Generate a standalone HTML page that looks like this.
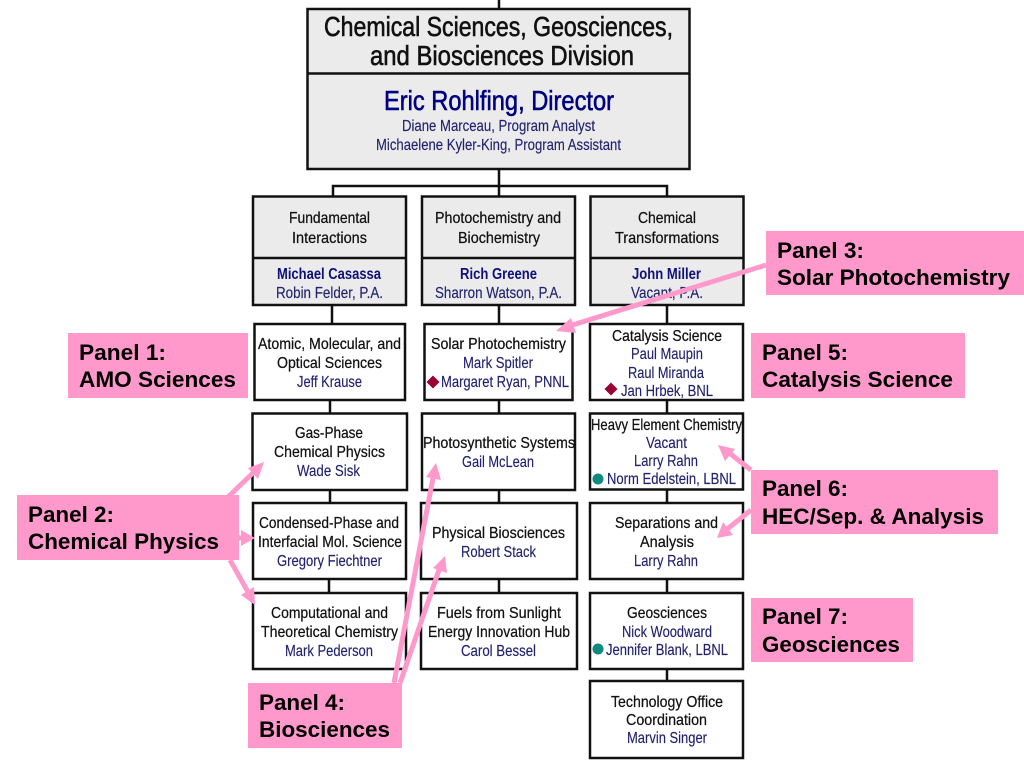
<!DOCTYPE html>
<html><head><meta charset="utf-8"><style>
html,body{margin:0;padding:0;background:#fff}
svg{display:block}
text{font-family:"Liberation Sans",sans-serif}
.k{font-size:16px;fill:#111;stroke:#111;stroke-width:.25px}
.n{font-size:16px;fill:#22226e;stroke:#22226e;stroke-width:.15px}
.b{font-size:16px;fill:#10107a;font-weight:bold}
.p{font-size:22.5px;fill:#000;font-weight:bold}
.t{font-size:28px;fill:#111;stroke:#111;stroke-width:.6px}
</style></head><body>
<svg width="1024" height="768" viewBox="0 0 1024 768" xmlns="http://www.w3.org/2000/svg">
<rect width="1024" height="768" fill="#fff"/>
<g fill="none" stroke="#111" stroke-width="2.5">
<path d="M499 0V9M499 169V196M333 196V186H667V196M332 305V324M499 305V324M667 305V324M330 400V413M499 400V413M667 400V413M330 490V503M499 490V503M667 490V503M329 579V593M499 579V593M667 579V593M667 669V681"/>
<rect x="307.500" y="9" width="382" height="160" fill="#ebebeb"/><path d="M307 73.500H690"/>
<rect x="253" y="196.500" width="153" height="108.500" fill="#ebebeb"/><path d="M253 258H406"/>
<rect x="422" y="196.500" width="153" height="108.500" fill="#ebebeb"/><path d="M422 258H575"/>
<rect x="590.500" y="196.500" width="153" height="108.500" fill="#ebebeb"/><path d="M590 258H743"/>
<g fill="#fff">
<rect x="254.500" y="324" width="150.500" height="76"/><rect x="424.500" y="324" width="148" height="76"/><rect x="590" y="324" width="153" height="76"/>
<rect x="252.500" y="413.500" width="154.500" height="76.500"/><rect x="422" y="413.500" width="153" height="76.500"/><rect x="590" y="413.500" width="153" height="76"/>
<rect x="253" y="503" width="153" height="76"/><rect x="421" y="503" width="156" height="76"/><rect x="590" y="503" width="153" height="76"/>
<rect x="253" y="593" width="153" height="76"/><rect x="421" y="593" width="156" height="76"/><rect x="590" y="593" width="153" height="76"/>
<rect x="590" y="681" width="153" height="77"/>
</g></g>

<g>
<text class="t" x="324" y="36" textLength="349" lengthAdjust="spacingAndGlyphs">Chemical Sciences, Geosciences,</text>
<text class="t" x="370" y="65" textLength="264" lengthAdjust="spacingAndGlyphs">and Biosciences Division</text>
<text class="t" x="384" y="110" textLength="230" lengthAdjust="spacingAndGlyphs" style="fill:#000080;stroke:#000080">Eric Rohlfing, Director</text>
<text class="n" x="402" y="131" textLength="193" lengthAdjust="spacingAndGlyphs">Diane Marceau, Program Analyst</text>
<text class="n" x="376" y="150" textLength="245" lengthAdjust="spacingAndGlyphs">Michaelene Kyler-King, Program Assistant</text>

<text class="k" x="289" y="223" textLength="81" lengthAdjust="spacingAndGlyphs">Fundamental</text>
<text class="k" x="292" y="243" textLength="75" lengthAdjust="spacingAndGlyphs">Interactions</text>
<text class="b" x="277" y="279" textLength="104" lengthAdjust="spacingAndGlyphs">Michael Casassa</text>
<text class="n" x="276" y="298" textLength="107" lengthAdjust="spacingAndGlyphs">Robin Felder, P.A.</text>
<text class="k" x="435" y="223" textLength="126" lengthAdjust="spacingAndGlyphs">Photochemistry and</text>
<text class="k" x="458" y="243" textLength="82" lengthAdjust="spacingAndGlyphs">Biochemistry</text>
<text class="b" x="460" y="279" textLength="77" lengthAdjust="spacingAndGlyphs">Rich Greene</text>
<text class="n" x="435" y="298" textLength="127" lengthAdjust="spacingAndGlyphs">Sharron Watson, P.A.</text>
<text class="k" x="638" y="223" textLength="58" lengthAdjust="spacingAndGlyphs">Chemical</text>
<text class="k" x="615" y="243" textLength="104" lengthAdjust="spacingAndGlyphs">Transformations</text>
<text class="b" x="632" y="279" textLength="69" lengthAdjust="spacingAndGlyphs">John Miller</text>
<text class="n" x="631" y="298" textLength="72" lengthAdjust="spacingAndGlyphs">Vacant, P.A.</text>

<text class="k" x="258" y="349" textLength="143" lengthAdjust="spacingAndGlyphs">Atomic, Molecular, and</text>
<text class="k" x="277" y="368" textLength="105" lengthAdjust="spacingAndGlyphs">Optical Sciences</text>
<text class="n" x="297" y="387" textLength="65" lengthAdjust="spacingAndGlyphs">Jeff Krause</text>
<text class="k" x="431" y="349" textLength="135" lengthAdjust="spacingAndGlyphs">Solar Photochemistry</text>
<text class="n" x="463" y="368" textLength="70" lengthAdjust="spacingAndGlyphs">Mark Spitler</text>
<text class="n" x="441" y="387" textLength="128" lengthAdjust="spacingAndGlyphs">Margaret Ryan, PNNL</text>
<text class="k" x="612" y="341" textLength="110" lengthAdjust="spacingAndGlyphs">Catalysis Science</text>
<text class="n" x="631" y="359" textLength="72" lengthAdjust="spacingAndGlyphs">Paul Maupin</text>
<text class="n" x="628" y="378" textLength="76" lengthAdjust="spacingAndGlyphs">Raul Miranda</text>
<text class="n" x="621" y="396" textLength="92" lengthAdjust="spacingAndGlyphs">Jan Hrbek, BNL</text>

<text class="k" x="295" y="438" textLength="68" lengthAdjust="spacingAndGlyphs">Gas-Phase</text>
<text class="k" x="274" y="457" textLength="111" lengthAdjust="spacingAndGlyphs">Chemical Physics</text>
<text class="n" x="297" y="476" textLength="63" lengthAdjust="spacingAndGlyphs">Wade Sisk</text>
<text class="k" x="423" y="448" textLength="152" lengthAdjust="spacingAndGlyphs">Photosynthetic Systems</text>
<text class="n" x="462" y="467" textLength="72" lengthAdjust="spacingAndGlyphs">Gail McLean</text>
<text class="k" x="591" y="430" textLength="151" lengthAdjust="spacingAndGlyphs">Heavy Element Chemistry</text>
<text class="n" x="646" y="448" textLength="41" lengthAdjust="spacingAndGlyphs">Vacant</text>
<text class="n" x="634" y="466" textLength="64" lengthAdjust="spacingAndGlyphs">Larry Rahn</text>
<text class="n" x="607" y="484" textLength="129" lengthAdjust="spacingAndGlyphs">Norm Edelstein, LBNL</text>

<text class="k" x="259" y="528" textLength="140" lengthAdjust="spacingAndGlyphs">Condensed-Phase and</text>
<text class="k" x="258" y="547" textLength="144" lengthAdjust="spacingAndGlyphs">Interfacial Mol. Science</text>
<text class="n" x="277" y="566" textLength="105" lengthAdjust="spacingAndGlyphs">Gregory Fiechtner</text>
<text class="k" x="432" y="538" textLength="133" lengthAdjust="spacingAndGlyphs">Physical Biosciences</text>
<text class="n" x="461" y="557" textLength="75" lengthAdjust="spacingAndGlyphs">Robert Stack</text>
<text class="k" x="615" y="528" textLength="103" lengthAdjust="spacingAndGlyphs">Separations and</text>
<text class="k" x="640" y="547" textLength="54" lengthAdjust="spacingAndGlyphs">Analysis</text>
<text class="n" x="634" y="566" textLength="64" lengthAdjust="spacingAndGlyphs">Larry Rahn</text>

<text class="k" x="271" y="618" textLength="117" lengthAdjust="spacingAndGlyphs">Computational and</text>
<text class="k" x="261" y="637" textLength="137" lengthAdjust="spacingAndGlyphs">Theoretical Chemistry</text>
<text class="n" x="285" y="656" textLength="88" lengthAdjust="spacingAndGlyphs">Mark Pederson</text>
<text class="k" x="437" y="618" textLength="124" lengthAdjust="spacingAndGlyphs">Fuels from Sunlight</text>
<text class="k" x="428" y="637" textLength="142" lengthAdjust="spacingAndGlyphs">Energy Innovation Hub</text>
<text class="n" x="461" y="656" textLength="75" lengthAdjust="spacingAndGlyphs">Carol Bessel</text>
<text class="k" x="627" y="618" textLength="80" lengthAdjust="spacingAndGlyphs">Geosciences</text>
<text class="n" x="622" y="637" textLength="90" lengthAdjust="spacingAndGlyphs">Nick Woodward</text>
<text class="n" x="606" y="655" textLength="122" lengthAdjust="spacingAndGlyphs">Jennifer Blank, LBNL</text>
<text class="k" x="611" y="707" textLength="112" lengthAdjust="spacingAndGlyphs">Technology Office</text>
<text class="k" x="626" y="725" textLength="81" lengthAdjust="spacingAndGlyphs">Coordination</text>
<text class="n" x="627" y="743" textLength="80" lengthAdjust="spacingAndGlyphs">Marvin Singer</text>
</g>

<path d="M433 375.500l6.500 6.500-6.500 6.500-6.500-6.500zM611 382.500l6.500 6.500-6.500 6.500-6.500-6.500z" fill="#990033"/>
<circle cx="598" cy="479" r="5.500" fill="#0f8a7e"/><circle cx="598" cy="649" r="5.500" fill="#0f8a7e"/>

<g stroke="#ff99cc" stroke-width="5" fill="none">
<path d="M766 265L566 327M228 497L256 470M239 538L246 538M230 560L248 592M394 683L433 478M400 683L439 570M751 470L728 452M751 510L726 530"/>
</g>
<g fill="#ff99cc">
<path d="M556 331L571 318L576 333Z"/>
<path d="M264 462L258 479L248 468Z"/>
<path d="M255 538L241 530V546Z"/>
<path d="M255 605L241 595L254 587Z"/>
<path d="M436 463L441 480L426 477Z"/>
<path d="M445 556L447 573L433 568Z"/>
<path d="M718 445L735 449L725 461Z"/>
<path d="M717 538L723 522L733 535Z"/>
<rect x="766" y="231" width="258" height="64"/>
<rect x="68" y="333" width="180" height="65"/>
<rect x="751" y="333" width="214" height="65"/>
<rect x="751" y="470" width="247" height="64"/>
<rect x="751" y="598" width="162" height="64"/>
<rect x="17" y="495" width="222" height="65"/>
<rect x="248" y="683" width="154" height="65"/>
</g>
<text class="p" x="777" y="258" textLength="87" lengthAdjust="spacingAndGlyphs">Panel 3:</text>
<text class="p" x="777" y="285" textLength="233" lengthAdjust="spacingAndGlyphs">Solar Photochemistry</text>
<text class="p" x="79" y="360" textLength="87" lengthAdjust="spacingAndGlyphs">Panel 1:</text>
<text class="p" x="79" y="387" textLength="157" lengthAdjust="spacingAndGlyphs">AMO Sciences</text>
<text class="p" x="762" y="360" textLength="86" lengthAdjust="spacingAndGlyphs">Panel 5:</text>
<text class="p" x="762" y="387" textLength="191" lengthAdjust="spacingAndGlyphs">Catalysis Science</text>
<text class="p" x="762" y="496" textLength="86" lengthAdjust="spacingAndGlyphs">Panel 6:</text>
<text class="p" x="762" y="524" textLength="222" lengthAdjust="spacingAndGlyphs">HEC/Sep. &amp; Analysis</text>
<text class="p" x="762" y="624" textLength="86" lengthAdjust="spacingAndGlyphs">Panel 7:</text>
<text class="p" x="762" y="652" textLength="138" lengthAdjust="spacingAndGlyphs">Geosciences</text>
<text class="p" x="28" y="522" textLength="86" lengthAdjust="spacingAndGlyphs">Panel 2:</text>
<text class="p" x="28" y="549" textLength="191" lengthAdjust="spacingAndGlyphs">Chemical Physics</text>
<text class="p" x="259" y="710" textLength="86" lengthAdjust="spacingAndGlyphs">Panel 4:</text>
<text class="p" x="259" y="737" textLength="131" lengthAdjust="spacingAndGlyphs">Biosciences</text>
</svg>
</body></html>
